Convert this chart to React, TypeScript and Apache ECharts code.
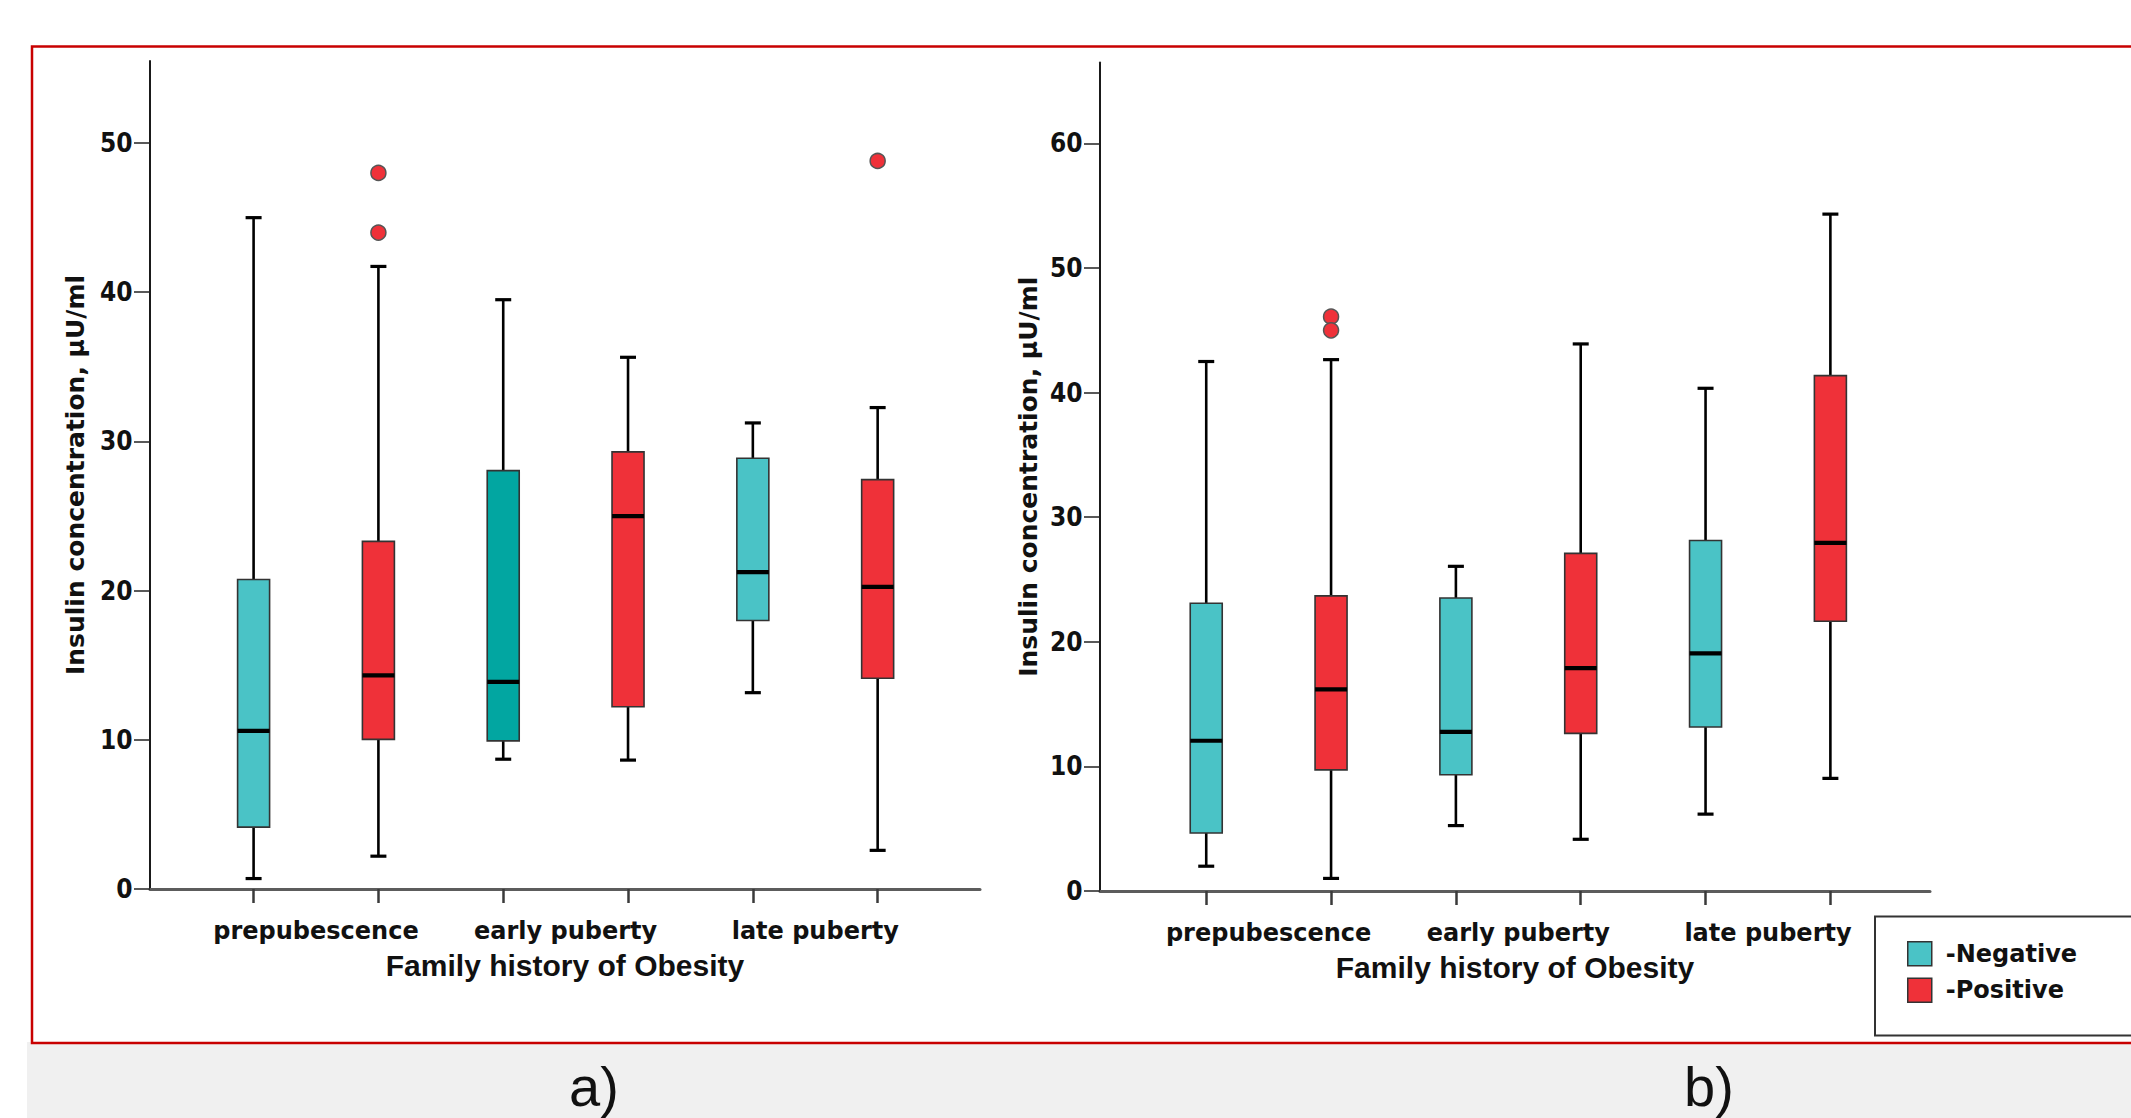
import React, { useEffect, useRef } from 'react';
import * as echarts from 'echarts';

// ---------- data ----------
const groupLabels = ['prepubescence', 'early puberty', 'late puberty'];
const historyTypes = ['Negative', 'Positive'];
const xTitle = 'Family history of Obesity';
const yTitle = 'Insulin concentration, μU/ml';
const panelTags = ['a)', 'b)'];
const yTicksA = [0, 10, 20, 30, 40, 50];
const yTicksB = [0, 10, 20, 30, 40, 50, 60];
const yMaxA = 55.5;
const yMaxB = 66.5;

// [min, Q1, median, Q3, max] per group
const aNegative = [
  [0.7, 4.15, 10.6, 20.75, 45.0],
  [8.7, 9.93, 13.88, 28.04, 39.5],
  [13.16, 18.0, 21.24, 28.87, 31.24],
];
const aPositive = [
  [2.2, 10.03, 14.32, 23.3, 41.73],
  [8.64, 12.22, 24.99, 29.3, 35.64],
  [2.59, 14.13, 20.25, 27.44, 32.27],
];
// [group index, value] (Positive)
const aOutliers = [
  [0, 48.0],
  [0, 44.0],
  [2, 48.8],
];

const bNegative = [
  [1.99, 4.66, 12.06, 23.1, 42.5],
  [5.25, 9.33, 12.77, 23.52, 26.06],
  [6.17, 13.16, 19.08, 28.13, 40.35],
];
const bPositive = [
  [1.01, 9.72, 16.18, 23.69, 42.65],
  [4.15, 12.65, 17.89, 27.1, 43.91],
  [9.04, 21.65, 27.94, 41.37, 54.33],
];
const bOutliers = [
  [0, 46.1],
  [0, 45.0],
];

// box slots: group g, type t -> position 1 + 2g + t
const slotTicks = [1, 2, 3, 4, 5, 6];
const groupCenters = [1.5, 3.5, 5.5];

// ---------- styles ----------
const negColor = '#4AC3C6';
const negDark = '#02A6A1';
const posColor = '#EF3139';
const narrowFont = "'Liberation Sans Narrow', 'DejaVu Sans Condensed', 'Liberation Sans', Arial, sans-serif";
const wideFont = "'DejaVu Sans', Verdana, sans-serif";
const plainFont = "'Liberation Sans', Arial, sans-serif";

const makeRender = (fills: string[]) => (params: any, api: any) => {
  const x = api.value(0);
  const cx = api.coord([x, api.value(1)])[0];
  const yMin = api.coord([x, api.value(1)])[1];
  const yQ1 = api.coord([x, api.value(2)])[1];
  const yMed = api.coord([x, api.value(3)])[1];
  const yQ3 = api.coord([x, api.value(4)])[1];
  const yMax = api.coord([x, api.value(5)])[1];
  const half = 16;
  const cap = 8;
  const line = (x1: number, y1: number, x2: number, y2: number, w: number) => ({
    type: 'line',
    shape: { x1, y1, x2, y2 },
    style: { stroke: '#000', lineWidth: w },
  });
  return {
    type: 'group',
    children: [
      line(cx, yMax, cx, yQ3, 2.6),
      line(cx, yQ1, cx, yMin, 2.6),
      line(cx - cap, yMax, cx + cap, yMax, 3.2),
      line(cx - cap, yMin, cx + cap, yMin, 3.2),
      {
        type: 'rect',
        shape: { x: cx - half, y: yQ3, width: 2 * half, height: yQ1 - yQ3 },
        style: { fill: fills[params.dataIndex], stroke: '#333', lineWidth: 1.6 },
      },
      line(cx - half, yMed, cx + half, yMed, 4.2),
    ],
  };
};

const panels = [
  {
    left: 150, right: 980, top: 61, bottom: 889, xMin: 0.17, xMax: 6.82,
    max: yMaxA, ticks: yTicksA, neg: aNegative, pos: aPositive, out: aOutliers,
    negFills: [negColor, negDark, negColor], nameGap: 62.5, tagX: 594,
  },
  {
    left: 1100, right: 1930, top: 62.5, bottom: 891, xMin: 0.149, xMax: 6.798,
    max: yMaxB, ticks: yTicksB, neg: bNegative, pos: bPositive, out: bOutliers,
    negFills: [negColor, negColor, negColor], nameGap: 59.5, tagX: 1709,
  },
];

const H = 1118;
const W = 2131;

function buildOption() {
  const grid: any[] = [];
  const xAxis: any[] = [];
  const yAxis: any[] = [];
  const series: any[] = [];
  const graphic: any[] = [
    { type: 'rect', shape: { x: 27, y: 1042, width: 2200, height: 100 }, style: { fill: '#F0F0F0' } },
    {
      type: 'rect',
      shape: { x: 32, y: 46.5, width: 2300, height: 996.5 },
      style: { fill: 'none', stroke: '#C80000', lineWidth: 2.5 },
    },
    {
      type: 'rect',
      shape: { x: 1875, y: 916.5, width: 400, height: 119 },
      style: { fill: '#fff', stroke: '#333', lineWidth: 2 },
    },
  ];

  panels.forEach((p, i) => {
    grid.push({ left: p.left, top: p.top, width: p.right - p.left, height: p.bottom - p.top });

    xAxis.push({
      gridIndex: i, type: 'value', min: p.xMin, max: p.xMax, position: 'bottom',
      axisLine: { show: true, lineStyle: { color: '#5c5c5c', width: 3 } },
      axisTick: { show: true, customValues: slotTicks, length: 14, lineStyle: { color: '#3a3a3a', width: 2.5 } },
      axisLabel: {
        customValues: groupCenters,
        formatter: (v: number) => groupLabels[Math.round((v - groupCenters[0]) / 2)] ?? '',
        margin: 30, fontFamily: wideFont, fontWeight: 'bold', fontSize: 24, color: '#111',
      },
      splitLine: { show: false },
      name: xTitle, nameLocation: 'middle', nameGap: 61,
      nameTextStyle: { fontFamily: plainFont, fontWeight: 'bold', fontSize: 30, color: '#111' },
    });

    yAxis.push({
      gridIndex: i, type: 'value', min: 0, max: p.max,
      axisLine: { show: true, lineStyle: { color: '#1a1a1a', width: 2 } },
      axisTick: { show: true, length: 16, customValues: p.ticks, lineStyle: { color: '#222', width: 1.5 } },
      axisLabel: {
        customValues: p.ticks, margin: 17.5, fontFamily: narrowFont, fontWeight: 'bold',
        fontSize: 26, color: '#111',
      },
      splitLine: { show: false },
      name: yTitle, nameLocation: 'middle', nameGap: p.nameGap,
      nameTextStyle: { fontFamily: wideFont, fontWeight: 'bold', fontSize: 25, color: '#111' },
    });

    series.push({
      name: historyTypes[0], type: 'custom', xAxisIndex: i, yAxisIndex: i,
      itemStyle: { color: negColor },
      encode: { x: 0, y: [1, 2, 3, 4, 5] },
      renderItem: makeRender(p.negFills),
      data: p.neg.map((s, g) => [slotTicks[g * 2], ...s]),
    });
    series.push({
      name: historyTypes[1], type: 'custom', xAxisIndex: i, yAxisIndex: i,
      itemStyle: { color: posColor },
      encode: { x: 0, y: [1, 2, 3, 4, 5] },
      renderItem: makeRender(p.pos.map(() => posColor)),
      data: p.pos.map((s, g) => [slotTicks[g * 2 + 1], ...s]),
    });
    series.push({
      name: 'Positive outliers', type: 'scatter', xAxisIndex: i, yAxisIndex: i,
      symbol: 'circle', symbolSize: 15,
      itemStyle: { color: posColor, borderColor: '#555', borderWidth: 1.5, opacity: 1 },
      data: p.out.map(([g, v]) => [slotTicks[g * 2 + 1], v]),
      z: 3,
    });

    graphic.push({
      type: 'text', x: p.tagX, y: 1086,
      style: {
        text: panelTags[i], fontFamily: plainFont, fontSize: 56, fill: '#111',
        align: 'center', verticalAlign: 'middle',
      },
    });
  });

  return {
    animation: false,
    backgroundColor: '#fff',
    grid,
    xAxis,
    yAxis,
    series,
    graphic,
    legend: {
      orient: 'vertical', left: 1907, top: 941, padding: 0,
      itemWidth: 24, itemHeight: 24, itemGap: 11, icon: 'rect', selectedMode: false,
      data: [
        { name: historyTypes[0], itemStyle: { color: negColor, borderColor: '#333', borderWidth: 1.5 } },
        { name: historyTypes[1], itemStyle: { color: posColor, borderColor: '#333', borderWidth: 1.5 } },
      ],
      formatter: (n: string) => '-' + n,
      textStyle: {
        fontFamily: wideFont, fontWeight: 'bold', fontSize: 24, color: '#111', padding: [0, 0, 8, 9],
      },
    },
  };
}

export default function App() {
  const ref = useRef<HTMLDivElement>(null);
  useEffect(() => {
    if (!ref.current) return;
    const chart = echarts.init(ref.current, undefined, { renderer: 'svg' });
    chart.setOption(buildOption() as any);
    return () => chart.dispose();
  }, []);
  return (
    <div
      ref={ref}
      style={{ position: 'absolute', left: 0, top: 0, width: W, height: H, background: '#fff' }}
    />
  );
}
